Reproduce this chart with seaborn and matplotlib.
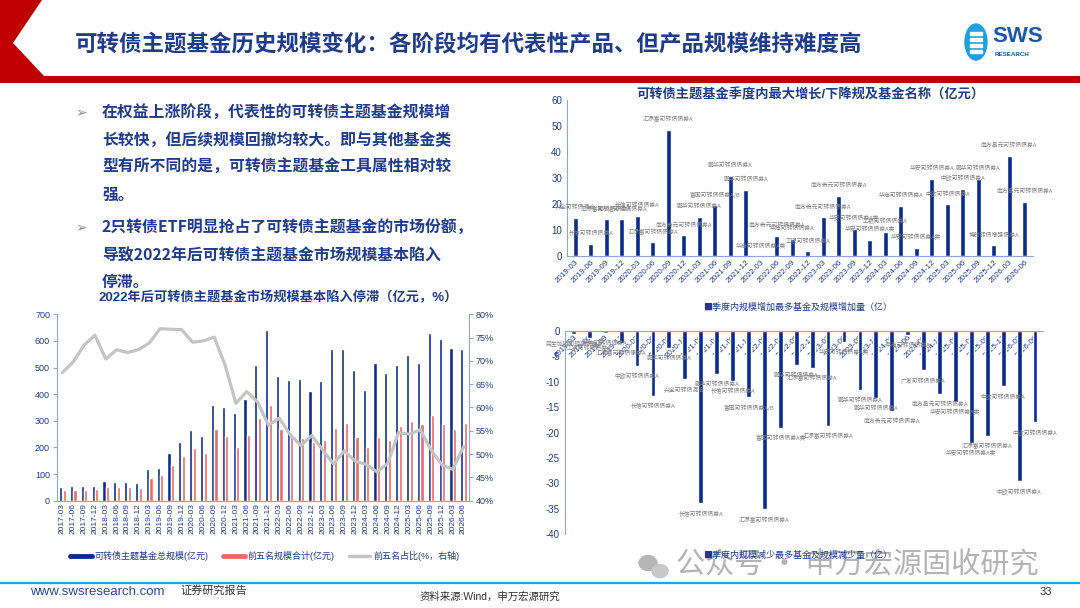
import numpy as np
import pandas as pd
import seaborn as sns
import matplotlib.pyplot as plt
from matplotlib.patches import Polygon, Ellipse, Rectangle
from matplotlib.lines import Line2D

sns.set_style("white")
plt.rcParams['font.family'] = ['Liberation Sans', 'Noto Sans CJK SC', 'DejaVu Sans']
plt.rcParams['axes.unicode_minus'] = False

NAVY = '#0b2c8c'
RED = '#e46c6a'
GREY = '#c4c4c4'
TXT = '#1f3c8c'
AXC = '#8fa6d4'
CJK = ['Noto Sans CJK SC', 'DejaVu Sans']

# ---- left chart: total scale / top5 scale / top5 share
quarters_l = [f"{y}-{m}" for y in range(2017, 2027) for m in ("03", "06", "09", "12")][:38]
total_scale = [53, 56, 56, 56, 73, 69, 69, 66, 118, 123, 180, 219, 267, 244, 359, 352,
               329, 383, 508, 641, 469, 454, 457, 413, 451, 568, 571, 492, 417, 518, 479, 511,
               548, 518, 631, 606, 573, 571]
top5_scale = [39, 41, 41, 44, 51, 51, 51, 48, 86, 95, 134, 169, 198, 181, 270, 244,
              200, 245, 312, 359, 270, 243, 237, 222, 229, 274, 293, 239, 200, 239, 229, 280,
              299, 287, 322, 288, 270, 293]
top5_share = [67.5, 69.8, 73.4, 75.5, 70.4, 72.4, 71.8, 72.4, 73.8, 76.9, 76.8, 76.7, 74.0, 74.3, 75.1, 69.1,
              60.9, 63.4, 61.2, 56.2, 57.7, 54.2, 51.8, 54.0, 50.9, 47.9, 50.7, 48.5, 47.8, 46.2, 48.0, 54.6,
              54.3, 55.2, 50.9, 47.7, 46.7, 51.6]

# ---- right charts: quarterly max increase / decrease
quarters_r = quarters_l[8:]
max_increase = [14.7, 4.6, 14.1, 14.1, 15.4, 5.3, 48.5, 7.9, 15.1, 19.6, 30.9, 25.4, 0.2, 7.7, 6.5,
                1.8, 14.9, 23.2, 10.5, 6.3, 9.4, 19.4, 3.1, 29.7, 20.0, 25.9, 29.7, 4.1, 38.5, 20.9]
inc_funds = ["兴全可转债混合", "长信可转债债券A", "汇添富可转债债券A", "易方达可转债债券A", "长信可转债债券A",
             "汇添富可转债债券A", "汇添富可转债债券A", "南方希元可转债债券A", "鹏华可转债债券A", "富国可转债债券A/B",
             "鹏华可转债债券A", "鹏华可转债债券A", "华商可转债债券A类", "南方希元可转债债券A", "华商可转债债券A",
             "工银可转债债券A", "南方希元可转债债券A", "南方希元可转债债券A", "华安可转债债券A类", "华安可转债债券A类",
             "工银可转债债券A", "华商可转债债券A", "华安可转债债券A类", "华安可转债债券A", "中欧可转债债券A",
             "中欧可转债债券A", "鹏华可转债债券A", "博时转债增强债券A", "南方昌元可转债债券A", "南方昌元可转债债券A"]
max_decrease = [-0.6, -1.4, -0.4, -2.4, -6.8, -12.7, -3.3, -9.5, -33.9, -8.5, -9.8, -13.0, -35.1, -19.1, -6.6,
                -7.2, -18.6, -2.2, -11.6, -13.2, -15.7, -0.7, -7.7, -12.4, -13.9, -22.1, -20.7, -10.8, -29.6, -18.0]
dec_funds = ["民生加银可转债债券A", "工银可转债债券A", "长信可转债债券A", "汇添富可转债债券A", "中欧可转债债券A",
             "长信可转债债券A", "鹏华可转债债券A", "兴全可转债混合", "长信可转债债券A", "鹏华可转债债券A",
             "长信可转债债券A", "富国可转债债券A/B", "汇添富可转债债券A", "富国可转债债券A类", "鹏华可转债债券A",
             "汇添富可转债债券A", "汇添富可转债债券A", "华安可转债债券A类", "鹏华可转债债券A", "鹏华可转债债券A",
             "南方希元可转债债券A", "华商可转债债券A", "广发可转债债券A", "南方昌元可转债债券A", "华安可转债债券A类",
             "华安可转债债券A类", "汇添富可转债债券A", "中欧可转债债券A", "中欧可转债债券A", "中欧可转债债券A"]

title = "可转债主题基金历史规模变化：各阶段均有代表性产品、但产品规模维持难度高"
bullets = [["在权益上涨阶段，代表性的可转债主题基金规模增", "长较快，但后续规模回撤均较大。即与其他基金类",
            "型有所不同的是，可转债主题基金工具属性相对较", "强。"],
           ["2只转债ETF明显抢占了可转债主题基金的市场份额，", "导致2022年后可转债主题基金市场规模基本陷入", "停滞。"]]

W, H = 1080, 608
fig = plt.figure(figsize=(W / 100, H / 100), dpi=100)


def rect(x0, y0, x1, y1):
    return [x0 / W, 1 - y1 / H, (x1 - x0) / W, (y1 - y0) / H]


def ftext(x, y, s, **kw):
    fig.text(x / W, 1 - y / H, s, **kw)


# background decorations
bg = fig.add_axes([0, 0, 1, 1], zorder=-5)
bg.set_xlim(0, W)
bg.set_ylim(H, 0)
bg.axis('off')
bg.add_patch(Polygon([(0, 0), (42, 0), (13, 43), (44, 76), (1080, 76), (1080, 83), (0, 83)],
                     closed=True, color='#c00000', lw=0))
bg.add_patch(Ellipse((976, 42), 22, 36, color='#1ea0e0'))
for yy in (32, 38, 44, 50):
    bg.add_patch(Rectangle((970, yy), 12, 2.5, color='white'))
bg.plot([0, W], [583, 583], color='#2aa3dc', lw=1.6)
bg.add_patch(Ellipse((648, 563), 18, 15, color='#b5b5b5'))
bg.add_patch(Ellipse((660, 571), 16, 13, color='#c8c8c8'))

ftext(992, 37, "SWS", fontsize=16, fontweight='bold', color='#1a58a8', va='center')
ftext(995, 54, "RESEARCH", fontsize=4.5, fontweight='bold', color='#1a58a8', va='center')
ftext(75, 44, title, fontsize=16.2, fontweight='bold', color=TXT, va='center', family=CJK)

by = [[113, 140, 167, 195], [228, 255, 282]]
for lines, ys in zip(bullets, by):
    ftext(75, ys[0], "➢", fontsize=10, color='#8c8c8c', va='center', family=['DejaVu Sans'])
    for s, yy in zip(lines, ys):
        ftext(102, yy, s, fontsize=11.4, fontweight='bold', color=TXT, va='center', family=CJK)

ftext(30, 592, "www.swsresearch.com", fontsize=9.5, color='#1f4e9e', va='center')
ftext(180, 590, "证券研究报告", fontsize=8, color='#333333', va='center', family=CJK)
ftext(420, 597, "资料来源:Wind，申万宏源研究", fontsize=7.5, color='#333333', va='center')
ftext(1040, 592, "33", fontsize=8, color='#333333', va='center')
ftext(676, 566, "公众号 · 申万宏源固收研究", fontsize=21, color='#9a9a9a', alpha=0.75, va='center', family=CJK)

# ---- left chart
ftext(278, 298, "2022年后可转债主题基金市场规模基本陷入停滞（亿元，%）", fontsize=9.5, fontweight='bold',
      color=TXT, ha='center', va='center')
ax = fig.add_axes(rect(57, 314.3, 469, 500.7))
df_l = pd.DataFrame({'quarter': quarters_l * 2,
                     'value': total_scale + top5_scale,
                     'series': ['total'] * 38 + ['top5'] * 38})
sns.barplot(data=df_l, x='quarter', y='value', hue='series', hue_order=['total', 'top5'],
            palette=[NAVY, RED], width=0.66, gap=0.12, saturation=1, legend=False, ax=ax)
ax.set_xlim(-0.5, 37.5)
ax.set_ylim(0, 700)
ax.set_yticks(range(0, 701, 100))
ax.set_xlabel('')
ax.set_ylabel('')
ax.tick_params(axis='x', labelrotation=90, labelsize=6, colors=TXT, length=0, pad=2)
ax.tick_params(axis='y', labelsize=6.5, colors=TXT, length=3, color=AXC, pad=2)
for sp in ('top', 'right'):
    ax.spines[sp].set_visible(False)
for sp in ('left', 'bottom'):
    ax.spines[sp].set_color(AXC)

ax2 = ax.twinx()
sns.lineplot(x=np.arange(38), y=top5_share, color=GREY, lw=2.3, ax=ax2)
ax2.set_ylim(40, 80)
ax2.set_yticks(range(40, 81, 5))
ax2.set_yticklabels([f"{v}%" for v in range(40, 81, 5)])
ax2.tick_params(axis='y', labelsize=6.5, colors=TXT, length=3, color=AXC, pad=2)
ax2.set_xlim(-0.5, 37.5)
for sp in ('top', 'left', 'bottom'):
    ax2.spines[sp].set_visible(False)
ax2.spines['right'].set_color(AXC)

handles = [Line2D([], [], color=NAVY, lw=3.5), Line2D([], [], color=RED, lw=3.5), Line2D([], [], color=GREY, lw=2.5)]
fig.legend(handles, ["可转债主题基金总规模(亿元)", "前五名规模合计(亿元)", "前五名占比(%，右轴)"],
           loc='center left', bbox_to_anchor=(62 / W, 1 - 556 / H), ncol=3, frameon=False,
           fontsize=6.5, handlelength=2.4, handletextpad=0.3, columnspacing=1.6, labelcolor=TXT)

# ---- top right chart
ftext(810, 95, "可转债主题基金季度内最大增长/下降规及基金名称（亿元）", fontsize=9.5, fontweight='bold',
      color=TXT, ha='center', va='center')
ax3 = fig.add_axes(rect(567.5, 100, 1032.5, 256))
sns.barplot(x=quarters_r, y=max_increase, color=NAVY, width=0.3, saturation=1, ax=ax3)
ax3.set_xlim(-0.5, 29.5)
ax3.set_ylim(0, 60)
ax3.set_yticks(range(0, 61, 10))
for i, (v, s) in enumerate(zip(max_increase, inc_funds)):
    ax3.annotate(s, (i, v), xytext=(0, 7.5), textcoords='offset points', ha='center', va='center',
                 fontsize=4.2, color='#7f7f7f', family=CJK)
ax3.tick_params(axis='x', labelsize=5.8, colors=TXT, length=0, pad=2)
plt.setp(ax3.get_xticklabels(), rotation=45, ha='right', rotation_mode='anchor')
ax3.tick_params(axis='y', labelsize=7, colors=TXT, length=0, pad=4)
for sp in ('top', 'right'):
    ax3.spines[sp].set_visible(False)
for sp in ('left', 'bottom'):
    ax3.spines[sp].set_color(AXC)

# ---- bottom right chart
ftext(703, 307, "■季度内规模增加最多基金及规模增加量（亿）", fontsize=6.5, color=TXT, va='center', family=CJK)
ftext(703, 555, "■季度内规模减少最多基金及规模减少量（亿）", fontsize=6.5, color=TXT, va='center', family=CJK)
ax4 = fig.add_axes(rect(565.4, 331, 1043, 534.3))
sns.barplot(x=quarters_r, y=max_decrease, color=NAVY, width=0.3, saturation=1, ax=ax4)
ax4.set_xlim(-0.5, 29.5)
ax4.set_ylim(-40, 0)
ax4.set_yticks(range(-40, 1, 5))
for i, (v, s) in enumerate(zip(max_decrease, dec_funds)):
    ax4.annotate(s, (i, v), xytext=(0, -7.5), textcoords='offset points', ha='center', va='center',
                 fontsize=4.2, color='#7f7f7f', family=CJK)
ax4.spines['bottom'].set_position(('data', 0))
ax4.tick_params(axis='x', labelsize=5.8, colors=TXT, length=0, pad=2)
plt.setp(ax4.get_xticklabels(), rotation=45, ha='right', rotation_mode='anchor')
ax4.tick_params(axis='y', labelsize=7, colors=TXT, length=0, pad=4)
for sp in ('top', 'right'):
    ax4.spines[sp].set_visible(False)
for sp in ('left', 'bottom'):
    ax4.spines[sp].set_color(AXC)

fig.savefig("out.png", dpi=100)
